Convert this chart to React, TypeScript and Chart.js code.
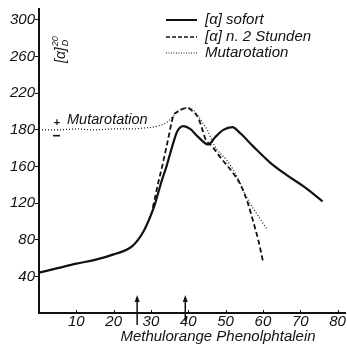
import React, { useEffect, useRef } from "react";
import { Chart, registerables } from "chart.js";

Chart.register(...registerables);

// ---- data ----
const xTickValues = [10, 20, 30, 40, 50, 60, 70, 80];
const yTickLabels = [40, 80, 120, 160, 180, 220, 260, 300]; // evenly spaced on the printed axis
const xTitle = "Methulorange Phenolphtalein";

const sofortX = [0, 5, 10, 15, 20, 25, 28, 30, 31, 32, 33, 34, 35, 36, 37, 38.7, 40.5, 42.7, 45.4, 47.2, 49.4, 51.8, 54, 57.4, 62, 66.6, 71, 76];
const sofortY = [44, 49, 54, 58, 64, 73, 89, 107, 118, 132, 146, 158, 166, 173, 179, 184, 181, 176, 172, 176, 180, 183, 178, 171, 162, 150, 138, 122];

const stundenX = [30.5, 32, 33, 34.4, 36, 37.3, 39.7, 41.3, 42.7, 43.8, 44.6, 46.4, 48.6, 51.8, 54, 55.8, 57.4, 58.8, 60.1];
const stundenY = [115, 143, 160, 173, 195, 200, 204, 200, 193, 180, 175, 171, 165, 154, 140, 122, 100, 79, 55];

const mutaX = [0, 5, 10, 15, 20, 25, 28, 30.5, 32.5, 34.5, 36, 37.9, 40, 41.5, 42.7, 44, 45.1, 46.4, 47.8, 50.5, 53.2, 55.8, 58.5, 61.2];
const mutaY = [180, 180, 181, 180, 181, 181, 182, 183, 185, 189, 195, 202.5, 204, 201, 195, 187, 180, 174, 169, 163, 148, 125, 107.5, 91];

const arrowX = [26.3, 39.2];

const legendLabels = ["[α] sofort", "[α] n. 2 Stunden", "Mutarotation"];

// printed axis: value at each evenly spaced position (position 0 = baseline)
const axisValues = [0, ...yTickLabels];
function toPos(v: number): number {
  for (let i = 0; i < axisValues.length - 1; i++) {
    const a = axisValues[i], b = axisValues[i + 1];
    if (v <= b || i === axisValues.length - 2) return i + (v - a) / (b - a);
  }
  return 0;
}
const pts = (xs: number[], ys: number[]) => xs.map((x, i) => ({ x, y: toPos(ys[i]) }));

const INK = "#111";
const FONT = "'Liberation Sans', Arial, sans-serif";

const overlay = {
  id: "overlay",
  afterDraw(chart: any) {
    const ctx = chart.ctx as CanvasRenderingContext2D;
    const xs = chart.scales.x;
    const ys = chart.scales.y;
    const area = chart.chartArea;
    ctx.save();
    ctx.fillStyle = INK;
    ctx.strokeStyle = INK;

    // inner x tick marks
    ctx.lineWidth = 1;
    xTickValues.forEach((v) => {
      const px = Math.round(xs.getPixelForValue(v)) + 0.5;
      ctx.beginPath();
      ctx.moveTo(px, area.bottom);
      ctx.lineTo(px, area.bottom - 3);
      ctx.stroke();
    });

    // arrows
    ctx.lineWidth = 1.5;
    arrowX.forEach((v, i) => {
      const px = xs.getPixelForValue(v);
      const top = area.bottom - 18;
      ctx.beginPath();
      ctx.moveTo(px, area.bottom + (i === 0 ? 12 : 8));
      ctx.lineTo(px, top + 5);
      ctx.stroke();
      ctx.beginPath();
      ctx.moveTo(px, top);
      ctx.lineTo(px - 2.5, top + 7);
      ctx.lineTo(px + 2.5, top + 7);
      ctx.closePath();
      ctx.fill();
    });

    // x title
    ctx.font = `italic 15px ${FONT}`;
    ctx.textAlign = "center";
    ctx.textBaseline = "middle";
    ctx.fillText(xTitle, 218, 337);

    // y title [α]_D^20 rotated
    ctx.save();
    ctx.translate(65, 63);
    ctx.rotate(-Math.PI / 2);
    ctx.textAlign = "left";
    ctx.textBaseline = "alphabetic";
    ctx.font = `italic 14px ${FONT}`;
    const main = "[α]";
    ctx.fillText(main, 0, 0);
    const w = ctx.measureText(main).width + 1;
    ctx.font = `italic 9px ${FONT}`;
    ctx.fillText("20", w, -7);
    ctx.fillText("D", w, 3);
    ctx.restore();

    // annotation +/− Mutarotation
    const y180 = ys.getPixelForValue(toPos(180));
    ctx.font = `bold 11px ${FONT}`;
    ctx.textAlign = "center";
    ctx.textBaseline = "middle";
    ctx.fillText("+", 57, y180 - 7);
    ctx.fillRect(53, y180 + 5, 7, 1.6);
    ctx.font = `italic 14.5px ${FONT}`;
    ctx.textAlign = "left";
    ctx.fillText("Mutarotation", 67, y180 - 10);

    // legend
    const rows = [20, 37, 53];
    const styles = [
      { dash: [] as number[], width: 2 },
      { dash: [4, 2], width: 1.6 },
      { dash: [1, 1.5], width: 1 },
    ];
    rows.forEach((ry, i) => {
      ctx.save();
      ctx.lineWidth = styles[i].width;
      ctx.setLineDash(styles[i].dash);
      ctx.beginPath();
      ctx.moveTo(166, ry);
      ctx.lineTo(197, ry);
      ctx.stroke();
      ctx.restore();
      ctx.font = `italic 15px ${FONT}`;
      ctx.textAlign = "left";
      ctx.textBaseline = "middle";
      ctx.fillText(legendLabels[i], 205, ry);
    });

    ctx.restore();
  },
};

export default function App() {
  const ref = useRef<HTMLCanvasElement | null>(null);

  useEffect(() => {
    if (!ref.current) return;
    const chart = new Chart(ref.current, {
      type: "scatter",
      data: {
        datasets: [
          {
            label: legendLabels[0],
            data: pts(sofortX, sofortY),
            showLine: true,
            borderColor: INK,
            borderWidth: 2.2,
            pointRadius: 0,
            cubicInterpolationMode: "monotone",
          },
          {
            label: legendLabels[1],
            data: pts(stundenX, stundenY),
            showLine: true,
            borderColor: INK,
            borderWidth: 1.8,
            borderDash: [5, 3],
            pointRadius: 0,
            cubicInterpolationMode: "monotone",
          },
          {
            label: legendLabels[2],
            data: pts(mutaX, mutaY),
            showLine: true,
            borderColor: INK,
            borderWidth: 1.2,
            borderDash: [1, 2],
            pointRadius: 0,
            cubicInterpolationMode: "monotone",
          },
        ],
      },
      options: {
        animation: false,
        responsive: false,
        maintainAspectRatio: false,
        layout: { padding: { top: 5, right: 2, left: 0, bottom: 0 } },
        plugins: { legend: { display: false }, tooltip: { enabled: false } },
        scales: {
          x: {
            type: "linear",
            min: 0,
            max: 82,
            afterFit: (s: any) => {
              s.height = 35;
            },
            afterBuildTicks: (s: any) => {
              s.ticks = xTickValues.map((v) => ({ value: v }));
            },
            ticks: {
              autoSkip: false,
              maxRotation: 0,
              padding: 0,
              color: INK,
              font: { family: FONT, size: 15, style: "italic" },
            },
            grid: { drawOnChartArea: false, drawTicks: false },
            border: { display: true, color: INK, width: 2 },
          },
          y: {
            type: "linear",
            min: 0,
            max: 8.3,
            afterFit: (s: any) => {
              s.width = 39;
            },
            afterBuildTicks: (s: any) => {
              s.ticks = yTickLabels.map((_, i) => ({ value: i + 1 }));
            },
            ticks: {
              autoSkip: false,
              padding: 0,
              color: INK,
              font: { family: FONT, size: 15, style: "italic" },
              callback: (v: any) => String(yTickLabels[Number(v) - 1] ?? ""),
            },
            grid: { drawOnChartArea: false, drawTicks: true, tickLength: 4, color: INK, lineWidth: 1 },
            border: { display: true, color: INK, width: 2 },
          },
        },
      },
      plugins: [overlay],
    });
    return () => chart.destroy();
  }, []);

  return (
    <div style={{ position: "fixed", left: 0, top: 0, width: 347, height: 348, background: "#fff" }}>
      <canvas ref={ref} width={347} height={348} style={{ display: "block" }} />
    </div>
  );
}
